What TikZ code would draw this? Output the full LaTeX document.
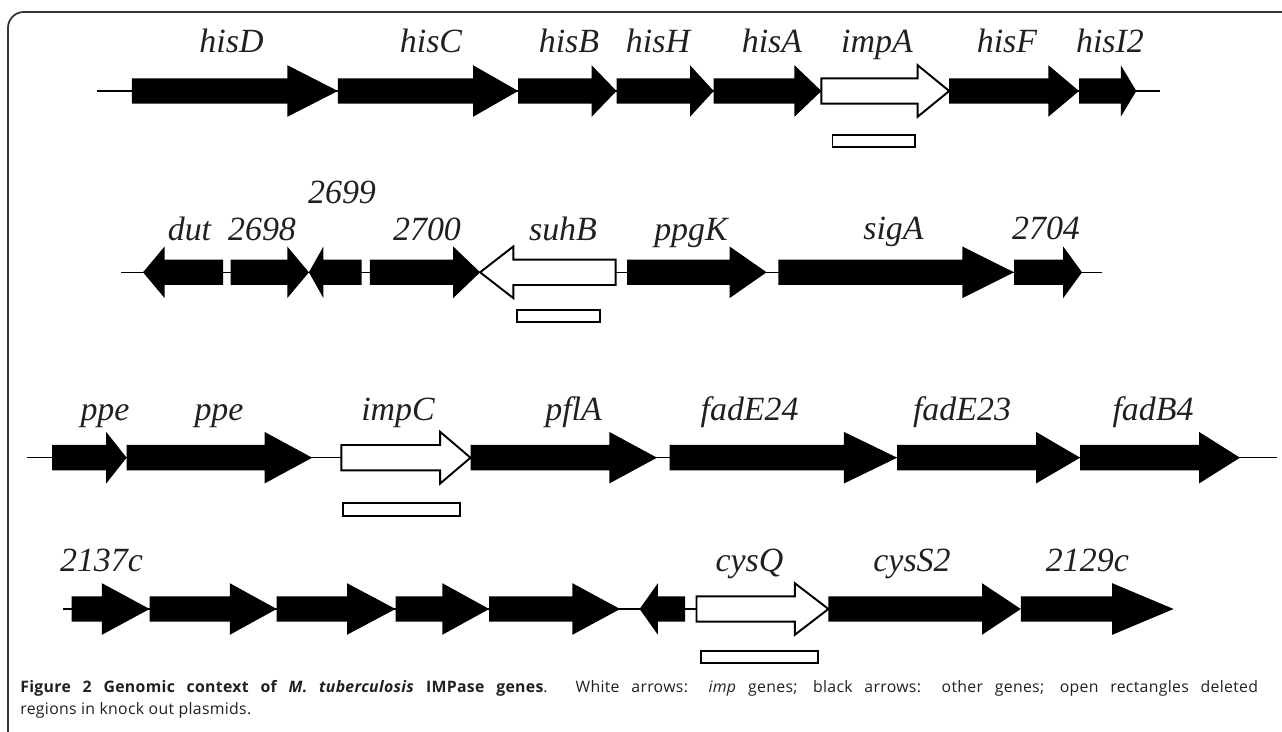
\documentclass[tikz,border=0pt]{standalone}
\usepackage{fontspec}
\usepackage{xcolor}
\setmainfont{Liberation Serif}
\newfontfamily\capfont[LetterSpace=2]{Open Sans}
\usetikzlibrary{positioning}
\usetikzlibrary{calc}

\definecolor{capgray}{HTML}{231F20}

\tikzset{
	gene/.style={fill=black, draw=none},
	impgene/.style={fill=white, draw=black, line width=1.1pt, line join=miter},
	deletion/.style={fill=white, draw=black, line width=1.1pt},
	backbone/.style={draw=black, line width=0.85pt},
	genename/.style={font=\fontsize{19.3}{22}\selectfont\itshape, text=capgray, anchor=base, inner sep=0pt},
	frame/.style={draw=black!80, line width=1pt, rounded corners=9pt}
}

% gene arrow: style, start, head base, tip, y
\newcommand{\genearrow}[5]{%
	\draw[#1] (#2,#5-12.7) -- (#3,#5-12.7) -- (#3,#5-25.8) -- (#4,#5) -- (#3,#5+25.8) -- (#3,#5+12.7) -- (#2,#5+12.7) -- cycle;}

\begin{document}
\begin{tikzpicture}[x=0.02cm, y=-0.02cm]
				\useasboundingbox (0,0) rectangle (1282,732);
				
				%frame
				\draw[frame] (1290,12) -- (8,12) -- (8,745);
				
				%row 1
				\coordinate (r1a) at (97.4,91);
				\coordinate (r1b) at (1160,91);
				\draw[backbone] (r1a) -- (r1b);
				\genearrow{gene}{131.8}{287.3}{337.9}{91}
				\genearrow{gene}{337.9}{473}{518.2}{91}
				\genearrow{gene}{518.2}{591.6}{616.5}{91}
				\genearrow{gene}{616.5}{690}{713.7}{91}
				\genearrow{gene}{713.7}{794.4}{821.4}{91}
				\genearrow{impgene}{821.4}{917.6}{949.2}{91}
				\genearrow{gene}{949.2}{1048.3}{1079}{91}
				\genearrow{gene}{1079}{1120.8}{1136.3}{91}
				\draw[deletion] (832.5,135) rectangle (914.8,147.3);
				\node[genename] (hisD) at (231.5,53) {hisD};
				\node[genename] (hisC) at (431,53) {hisC};
				\node[genename] (hisB) at (569,53) {hisB};
				\node[genename] (hisH) at (658,53) {hisH};
				\node[genename] (hisA) at (772,53) {hisA};
				\node[genename] (impA) at (877,53) {impA};
				\node[genename] (hisF) at (1007,53) {hisF};
				\node[genename] (hisI2) at (1110,53) {hisI2};
				
				%row 2
				\coordinate (r2a) at (121,272.3);
				\coordinate (r2b) at (1101.5,272.3);
				\draw[backbone] (r2a) -- (r2b);
				\genearrow{gene}{223}{164.6}{143}{272.3}
				\genearrow{gene}{230.5}{287.3}{308.9}{272.3}
				\genearrow{gene}{361.5}{323.4}{308.9}{272.3}
				\genearrow{gene}{369.8}{453.2}{480.1}{272.3}
				\genearrow{impgene}{615.7}{513.3}{480.1}{272.3}
				\genearrow{gene}{627}{729.6}{766.6}{272.3}
				\genearrow{gene}{778.3}{962.3}{1014.1}{272.3}
				\genearrow{gene}{1014.1}{1063.2}{1082}{272.3}
				\draw[deletion] (517.4,310) rectangle (599.9,322.3);
				\node[genename] (dut) at (189.5,240.5) {dut};
				\node[genename] (g2698) at (262,240.5) {2698};
				\node[genename] (g2699) at (342,203.3) {2699};
				\node[genename] (g2700) at (427,240.5) {2700};
				\node[genename] (suhB) at (563,240.5) {suhB};
				\node[genename] (ppgK) at (691,240.5) {ppgK};
				\node[genename] (sigA) at (893.5,240) {sigA};
				\node[genename] (g2704) at (1046,240) {2704};
				
				%row 3
				\coordinate (r3a) at (27.3,457.7);
				\coordinate (r3b) at (1276.8,457.7);
				\draw[backbone] (r3a) -- (r3b);
				\genearrow{gene}{52}{106.2}{126.6}{457.7}
				\genearrow{gene}{126.6}{264.5}{312.2}{457.7}
				\genearrow{impgene}{341.3}{440.2}{470.5}{457.7}
				\genearrow{gene}{470.5}{609.3}{657}{457.7}
				\genearrow{gene}{669.5}{843.9}{897.2}{457.7}
				\genearrow{gene}{897.2}{1036}{1080.2}{457.7}
				\genearrow{gene}{1080.2}{1199}{1240}{457.7}
				\draw[deletion] (342.6,503.3) rectangle (459.7,515.7);
				\node[genename] (ppeA) at (105,421) {ppe};
				\node[genename] (ppeB) at (219,421) {ppe};
				\node[genename] (impC) at (398,421) {impC};
				\node[genename] (pflA) at (573.6,421) {pflA};
				\node[genename] (fadE24) at (749.6,421) {fadE24};
				\node[genename] (fadE23) at (962,421) {fadE23};
				\node[genename] (fadB4) at (1153,421) {fadB4};
				
				%row 4
				\coordinate (r4a) at (62.9,609);
				\coordinate (r4b) at (696.5,609);
				\draw[backbone] (r4a) -- (r4b);
				\genearrow{gene}{71.6}{101.9}{149.6}{609}
				\genearrow{gene}{149.6}{229.8}{276.7}{609}
				\genearrow{gene}{276.7}{347}{395.5}{609}
				\genearrow{gene}{395.5}{442.3}{489.2}{609}
				\genearrow{gene}{489.2}{572.4}{620.1}{609}
				\genearrow{gene}{685}{657.9}{639.6}{609}
				\genearrow{impgene}{696.5}{794.8}{828.4}{609}
				\genearrow{gene}{828.4}{982}{1020.8}{609}
				\genearrow{gene}{1020.8}{1112.2}{1173.6}{609}
				\draw[deletion] (700.6,651) rectangle (818.1,663.3);
				\node[genename] (g2137c) at (101.5,571.7) {2137c};
				\node[genename] (cysQ) at (749.5,571.7) {cysQ};
				\node[genename] (cysS2) at (912,571.7) {cysS2};
				\node[genename] (g2129c) at (1087.4,571.7) {2129c};
				
				%caption
				\node[anchor=north west, inner sep=0pt, text width=704.5pt, align=justify, text=capgray, font=\capfont\fontsize{9}{12.5}\selectfont] (caption) at (20,680) {\textbf{Figure 2 Genomic context of \textit{M. tuberculosis} IMPase genes}. White arrows: \textit{imp} genes; black arrows: other genes; open rectangles deleted\linebreak regions in knock out plasmids.};
			\end{tikzpicture}
\end{document}
